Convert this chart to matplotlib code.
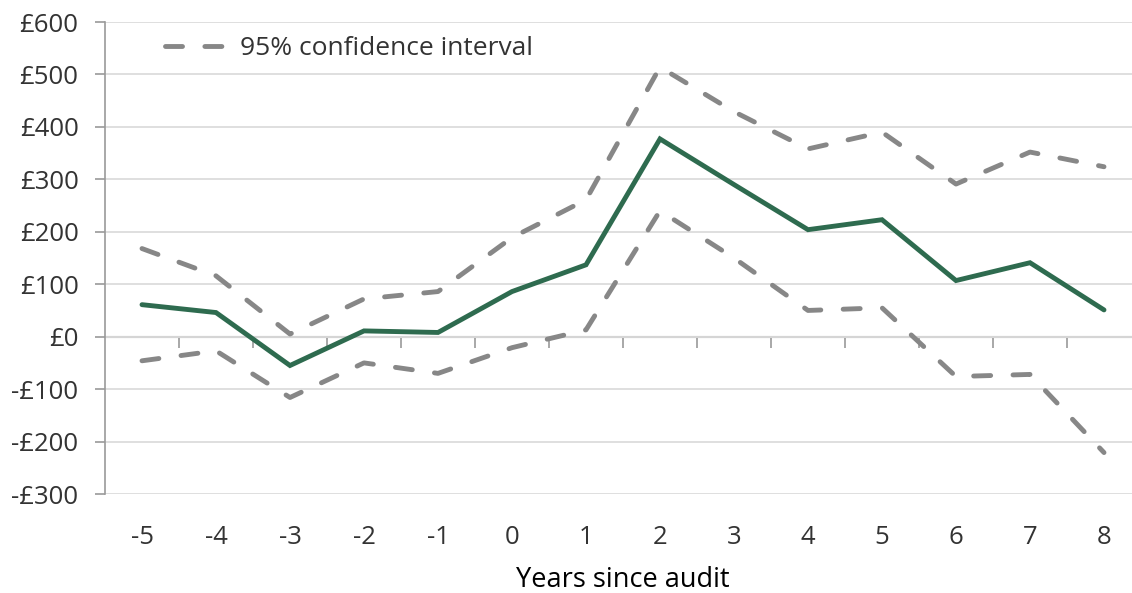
import matplotlib
matplotlib.use("Agg")
import matplotlib.pyplot as plt
from matplotlib.ticker import FixedLocator, FuncFormatter

plt.rcParams.update({
    "font.family": ["Open Sans", "DejaVu Sans"],
    "font.size": 18.5,
    "text.color": "#333333",
    "xtick.color": "#333333",
    "ytick.color": "#333333",
})

# data
years = [-5, -4, -3, -2, -1, 0, 1, 2, 3, 4, 5, 6, 7, 8]
estimate = [61, 46, -55, 11, 8, 86, 137, 377, 290, 204, 223, 107, 141, 51]
upper_ci = [168, 116, 5, 72, 86, 189, 261, 514, 429, 358, 390, 291, 352, 324]
lower_ci = [-46, -27, -116, -50, -70, -21, 13, 240, 150, 50, 55, -76, -72, -221]

green = "#2E6B4F"
grey = "#878787"

fig = plt.figure(figsize=(11.32, 5.93), dpi=100)
ax = fig.add_axes([105 / 1132, (593 - 494) / 593, 1036 / 1132, 472 / 593])

dash = (3.5, 4.6)
ax.plot(years, upper_ci, color=grey, lw=3.5, dashes=dash, dash_capstyle="round",
        label="95% confidence interval", zorder=3)
ax.plot(years, lower_ci, color=grey, lw=3.5, dashes=dash, dash_capstyle="round",
        zorder=3)
ax.plot(years, estimate, color=green, lw=3.5, solid_capstyle="round",
        solid_joinstyle="miter", zorder=4)

ax.set_xlim(-5.5, 8.5)
ax.set_ylim(-300, 600)
ax.set_yticks(range(-300, 601, 100))
ax.yaxis.set_major_formatter(FuncFormatter(
    lambda v, p: f"£{int(v)}" if v >= 0 else f"-£{int(-v)}"))
ax.grid(axis="y", color="#DCDCDC", lw=1.3, zorder=0)
ax.set_axisbelow(True)

for s in ["top", "right", "bottom"]:
    ax.spines[s].set_visible(False)
ax.spines["left"].set_color("#9A9A9A")
ax.spines["left"].set_linewidth(1.2)
ax.tick_params(axis="y", length=7, width=1.2, color="#9A9A9A", pad=12)

ax.set_xticks(years)
ax.set_xticklabels([str(y) for y in years])
ax.tick_params(axis="x", length=0, pad=22)
ax.set_xlabel("Years since audit", labelpad=12, fontsize=19.5)

# zero line carrying the category boundary ticks
zero_ax = ax.secondary_xaxis(1 / 3)
zero_ax.spines["bottom"].set_color("#9A9A9A")
zero_ax.spines["bottom"].set_linewidth(1.5)
zero_ax.xaxis.set_major_locator(FixedLocator([y + 0.5 for y in years[:-1]]))
zero_ax.tick_params(axis="x", length=8, width=1.2, color="#9A9A9A", labelbottom=False)

ax.legend(loc="upper left", frameon=False, bbox_to_anchor=(0.035, 1.02),
          handlelength=2.5, handletextpad=0.35, fontsize=19)

fig.savefig("out.png", dpi=100)
